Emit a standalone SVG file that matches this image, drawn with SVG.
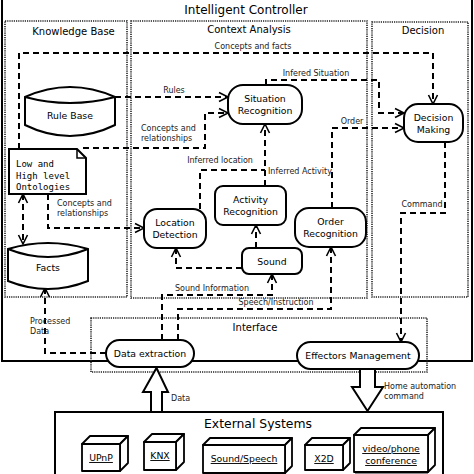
<svg xmlns="http://www.w3.org/2000/svg" width="474" height="474" viewBox="0 0 474 474">
<style>
text{font-family:"DejaVu Sans","Liberation Sans",sans-serif;fill:#000}
.t1{font-size:12px;text-anchor:middle}
.t2{font-size:10px;text-anchor:middle}
.nl{font-size:9.3px;text-anchor:middle}
.el{font-size:8px;fill:#222}
.mono{font-family:"DejaVu Sans Mono","Liberation Mono",monospace;font-size:9px}
.ul{font-size:9.3px;text-anchor:middle;text-decoration:underline}
.dot{fill:none;stroke:#222;stroke-width:1.6;stroke-dasharray:1.2,1}
.node{fill:#fff;stroke:#000;stroke-width:2}
.cube{fill:#fff;stroke:#000;stroke-width:1.8;stroke-linejoin:round}
.con{fill:none;stroke:#000;stroke-width:2;stroke-dasharray:6,4}
.arr{marker-end:url(#ah)}
</style>
<defs>
<marker id="ah" markerWidth="12" markerHeight="12" refX="10" refY="5" orient="auto-start-reverse" markerUnits="userSpaceOnUse" viewBox="0 0 12 10">
<path d="M1,0.5 L10,5 L1,9.5" fill="none" stroke="#000" stroke-width="1.6"/>
</marker>
</defs>
<rect width="474" height="474" fill="#fff"/>
<!-- outer frame -->
<path d="M2,0 V361 H472 V0" fill="none" stroke="#000" stroke-width="2"/>
<text class="t1" x="246" y="14">Intelligent Controller</text>
<!-- regions -->
<g id="regions">
<rect class="dot" x="5" y="21" width="122" height="276"/>
<rect class="dot" x="131" y="21" width="236" height="277"/>
<rect class="dot" x="372" y="22" width="96" height="275"/>
<rect class="dot" x="91" y="318" width="336" height="54"/>
<text class="t2" x="73.5" y="35">Knowledge Base</text>
<text class="t2" x="249" y="33">Context Analysis</text>
<text class="t2" x="423" y="34">Decision</text>
<text class="t2" x="255" y="331">Interface</text>
</g>
<!-- connectors -->
<g id="connectors">
<path class="con arr" d="M19,149 V53 H433 V104"/>
<path class="con arr" d="M115,97 H228"/>
<path class="con arr" d="M83,148 H205 V113 H228"/>
<path class="con" d="M200,209 V170 H265"/>
<path class="con arr" d="M265,186 V124"/>
<path class="con arr" d="M266,85 V80 H379 V113 H404"/>
<path class="con arr" d="M332,208 V128 H404"/>
<path class="con arr" d="M256,248 V225"/>
<path class="con arr" d="M242,268 H176 V248"/>
<path class="con arr" d="M162,340 V295 H272 V274"/>
<path class="con arr" d="M178,340 V309 H331 V247"/>
<path class="con arr" d="M445,142 V213 H401 V342"/>
<path class="con arr" d="M23,194 V244" style="marker-start:url(#ah)"/>
<path class="con arr" d="M48,194 V228 H144"/>
<path class="con arr" d="M106,353 H45 V288"/>
<text class="el" x="253" y="49" text-anchor="middle">Concepts and facts</text>
<text class="el" x="174" y="93" text-anchor="middle">Rules</text>
<text class="el" x="141" y="131">Concepts and</text>
<text class="el" x="141" y="141">relationships</text>
<text class="el" x="316" y="76" text-anchor="middle">Infered Situation</text>
<text class="el" x="352" y="124" text-anchor="middle">Order</text>
<text class="el" x="220" y="163" text-anchor="middle">Inferred location</text>
<text class="el" x="268" y="174">Inferred Activity</text>
<text class="el" x="57" y="206">Concepts and</text>
<text class="el" x="57" y="216">relationships</text>
<text class="el" x="422" y="207" text-anchor="middle">Command</text>
<text class="el" x="212" y="291" text-anchor="middle">Sound Information</text>
<text class="el" x="276" y="305" text-anchor="middle">Speech/Instruction</text>
<text class="el" x="30" y="324">Processed</text>
<text class="el" x="30" y="334">Data</text>
<text class="el" x="171" y="401">Data</text>
<text class="el" x="384" y="389">Home automation</text>
<text class="el" x="384" y="399">command</text>
</g>
<!-- knowledge base nodes -->
<g id="rule-base">
<path class="node" d="M25,97 V125 Q70,147 115,125 V97 Q70,77 25,97 Z"/>
<path d="M25,97 Q70,109 115,97" fill="none" stroke="#000" stroke-width="2"/>
<text class="nl" x="70" y="119">Rule Base</text>
</g>
<g id="ontologies">
<path class="node" d="M9,149 H77 L86,158 V194 H9 Z"/>
<path d="M77,149 V158 H86" fill="none" stroke="#000" stroke-width="1.5"/>
<text class="mono" x="16" y="167">Low and</text>
<text class="mono" x="16" y="179">High level</text>
<text class="mono" x="16" y="190">Ontologies</text>
</g>
<g id="facts">
<path class="node" d="M8,249 V281 Q48,297 88,281 V249 Q48,237 8,249 Z"/>
<path d="M8,249 Q48,265 88,249" fill="none" stroke="#000" stroke-width="2"/>
<text class="nl" x="48" y="271">Facts</text>
</g>
<!-- context analysis nodes -->
<g id="situation-recognition">
<rect class="node" x="228" y="85" width="74" height="39" rx="15"/>
<text class="nl" x="265" y="102">Situation</text>
<text class="nl" x="265" y="114">Recognition</text>
</g>
<g id="location-detection">
<rect class="node" x="144" y="209" width="62" height="39" rx="13"/>
<text class="nl" x="175" y="226">Location</text>
<text class="nl" x="175" y="238">Detection</text>
</g>
<g id="activity-recognition">
<rect class="node" x="215" y="186" width="71" height="39" rx="8"/>
<text class="nl" x="250.5" y="203">Activity</text>
<text class="nl" x="250.5" y="215">Recognition</text>
</g>
<g id="sound">
<rect class="node" x="242" y="248" width="60" height="26" rx="7"/>
<text class="nl" x="272" y="265">Sound</text>
</g>
<g id="order-recognition">
<rect class="node" x="295" y="208" width="71" height="39" rx="14"/>
<text class="nl" x="330.5" y="225">Order</text>
<text class="nl" x="330.5" y="237">Recognition</text>
</g>
<g id="decision-making">
<rect class="node" x="404" y="104" width="59" height="38" rx="14"/>
<text class="nl" x="433.5" y="121">Decision</text>
<text class="nl" x="433.5" y="133">Making</text>
</g>
<!-- interface nodes -->
<g id="data-extraction">
<rect class="node" x="106" y="340" width="88" height="27" rx="13.5"/>
<text class="nl" x="150" y="357">Data extraction</text>
</g>
<g id="effectors-management">
<rect class="node" x="297" y="342" width="122" height="27" rx="13.5"/>
<text class="nl" x="358" y="359">Effectors Management</text>
</g>
<!-- block arrows -->
<g id="data-arrow">
<polygon points="151,412 151,392 143,392 156.5,368 168,392 162,392 162,412" fill="#fff" stroke="#000" stroke-width="2" stroke-linejoin="miter"/>
</g>
<g id="home-arrow">
<polygon points="360,369 360,387 352,387 367.5,411 383,387 375,387 375,369" fill="#fff" stroke="#000" stroke-width="2"/>
</g>
<!-- external systems -->
<g id="external-systems">
<rect x="55" y="412" width="388" height="70" fill="none" stroke="#000" stroke-width="2"/>
<text class="t1" x="258" y="428" style="font-size:12.4px">External Systems</text>
</g>
<g id="upnp">
<polygon class="cube" points="82,444 90,436 128,436 120,444"/>
<polygon class="cube" points="120,444 128,436 128,463 120,471"/>
<rect class="cube" x="82" y="444" width="38" height="27"/>
<text class="ul" x="101" y="461">UPnP</text>
</g>
<g id="knx">
<polygon class="cube" points="144,442 152,434 184,434 176,442"/>
<polygon class="cube" points="176,442 184,434 184,462 176,470"/>
<rect class="cube" x="144" y="442" width="32" height="28"/>
<text class="ul" x="160" y="459">KNX</text>
</g>
<g id="sound-speech">
<rect x="204" y="472" width="82" height="2" fill="#888"/>
<polygon class="cube" points="203,445 210,438 292,438 285,445"/>
<polygon class="cube" points="285,445 292,438 292,466 285,473"/>
<rect class="cube" x="203" y="445" width="82" height="28"/>
<text class="ul" x="244" y="462">Sound/Speech</text>
</g>
<g id="x2d">
<polygon class="cube" points="305,445 312,438 350,438 343,445"/>
<polygon class="cube" points="343,445 350,438 350,463 343,470"/>
<rect class="cube" x="305" y="445" width="38" height="25"/>
<text class="ul" x="324" y="462">X2D</text>
</g>
<g id="video-phone">
<rect x="355" y="472" width="73" height="2" fill="#888"/>
<polygon class="cube" points="354,435 361,428 435,428 428,435"/>
<polygon class="cube" points="428,435 435,428 435,465 428,472"/>
<rect class="cube" x="354" y="435" width="74" height="37"/>
<text class="ul" x="391" y="452">video/phone</text>
<text class="ul" x="391" y="464">conference</text>
</g>
</svg>
